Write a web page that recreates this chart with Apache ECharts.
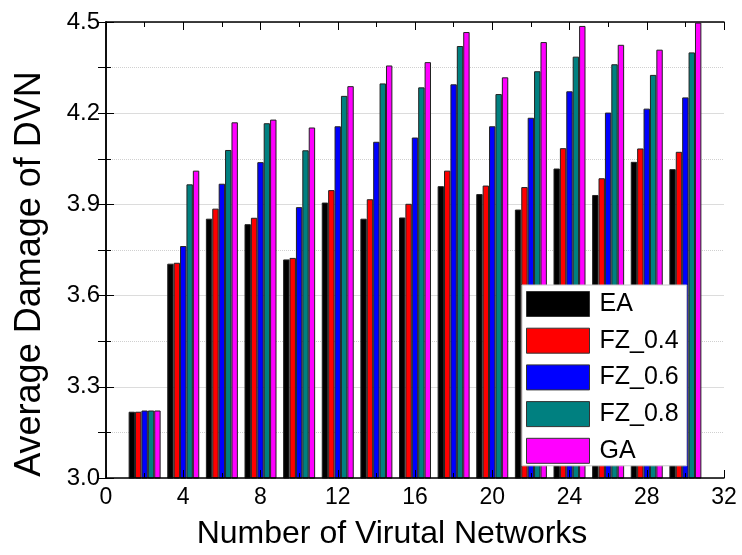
<!DOCTYPE html>
<html>
<head>
<meta charset="utf-8">
<script src="https://cdn.jsdelivr.net/npm/echarts@6/dist/echarts.min.js"></script>
<style>
  html, body {margin: 0; padding: 0; background: #fff;}
  #chart {width: 742px; height: 555px;}
</style>
</head>
<body>
<div id="chart"></div>
<script>
const xs = [2, 4, 6, 8, 10, 12, 14, 16, 18, 20, 22, 24, 26, 28, 30];
const seriesNames = ['EA', 'FZ_0.4', 'FZ_0.6', 'FZ_0.8', 'GA'];
const ea = [3.218, 3.705, 3.853, 3.835, 3.719, 3.906, 3.853, 3.857, 3.960, 3.934, 3.883, 4.018, 3.931, 4.040, 4.016];
const fz04 = [3.218, 3.708, 3.886, 3.856, 3.724, 3.947, 3.917, 3.902, 4.011, 3.962, 3.957, 4.085, 3.986, 4.084, 4.073];
const fz06 = [3.222, 3.763, 3.968, 4.039, 3.891, 4.157, 4.106, 4.120, 4.295, 4.157, 4.185, 4.272, 4.202, 4.215, 4.252];
const fz08 = [3.222, 3.966, 4.079, 4.167, 4.078, 4.257, 4.298, 4.285, 4.421, 4.263, 4.338, 4.386, 4.361, 4.326, 4.400];
const ga = [3.222, 4.011, 4.170, 4.179, 4.153, 4.289, 4.357, 4.368, 4.467, 4.318, 4.434, 4.487, 4.425, 4.409, 4.498];
const colors = ['#000000', '#ff0000', '#0000ff', '#008080', '#ff00ff'];

const font = '"Liberation Sans", Arial, sans-serif';
const values = [ea, fz04, fz06, fz08, ga];

const chart = echarts.init(document.getElementById('chart'));

const frameAxis = {
    min: 0,
    max: 32,
    interval: 4,
    axisLine: {lineStyle: {color: '#000', width: 1.5}},
    axisTick: {inside: true, length: 8, lineStyle: {color: '#000', width: 1}},
    minorTick: {show: true, splitNumber: 2, length: 5, lineStyle: {color: '#000', width: 1}},
    splitLine: {show: false}
};

chart.setOption({
    animation: false,
    grid: {left: 106, top: 22, right: 18, bottom: 77},
    legend: {
        data: seriesNames,
        orient: 'vertical',
        left: 522,
        top: 285,
        itemWidth: 63,
        itemHeight: 25,
        itemGap: 10.7,
        padding: [6, 8, 2, 4],
        backgroundColor: '#fff',
        borderColor: '#c8c8c8',
        borderWidth: 1,
        icon: 'rect',
        itemStyle: {borderColor: '#333', borderWidth: 1},
        textStyle: {fontFamily: font, fontSize: 25, color: '#000', padding: [0, 0, 0, 5]}
    },
    graphic: [
        {
            type: 'text',
            x: 392,
            y: 534,
            style: {
                text: 'Number of Virutal Networks',
                font: '32px ' + font,
                fill: '#000',
                textAlign: 'center',
                textVerticalAlign: 'middle'
            }
        },
        {
            type: 'text',
            x: 30,
            y: 274,
            rotation: Math.PI / 2,
            style: {
                text: 'Average Damage of DVN',
                font: '36px ' + font,
                fill: '#000',
                textAlign: 'center',
                textVerticalAlign: 'middle'
            }
        }
    ],
    xAxis: [
        Object.assign({}, frameAxis, {
            type: 'value',
            position: 'bottom',
            z: 3,
            axisLabel: {fontFamily: font, fontSize: 23, color: '#000', margin: 8}
        }),
        Object.assign({}, frameAxis, {
            type: 'value',
            position: 'top',
            axisLabel: {show: false}
        })
    ],
    yAxis: [
        {
            type: 'value',
            min: 3.0,
            max: 4.5,
            interval: 0.3,
            axisLine: {show: true, lineStyle: {color: '#000', width: 1.5}},
            axisTick: {inside: true, length: 8, lineStyle: {color: '#000'}},
            minorTick: {show: true, splitNumber: 2, length: 5, lineStyle: {color: '#000'}},
            axisLabel: {
                fontFamily: font, fontSize: 24, color: '#000', margin: 6,
                formatter: v => v.toFixed(1)
            },
            splitLine: {show: true, lineStyle: {color: '#dcdcdc', width: 1}},
            minorSplitLine: {show: true, lineStyle: {color: '#d0d0d0', width: 1, type: 'dotted'}}
        },
        {
            type: 'value',
            position: 'right',
            min: 3.0,
            max: 4.5,
            interval: 0.3,
            axisLine: {show: true, lineStyle: {color: '#000', width: 1.5}},
            axisTick: {inside: true, length: 8, lineStyle: {color: '#000'}},
            minorTick: {show: true, splitNumber: 2, length: 8, lineStyle: {color: '#000'}},
            axisLabel: {show: false},
            splitLine: {show: false}
        }
    ],
    series: seriesNames.map((name, i) => ({
        name: name,
        type: 'bar',
        barWidth: 6.4,
        barGap: '0%',
        itemStyle: {color: colors[i], borderColor: '#222', borderWidth: 1},
        data: xs.map((x, j) => [x, values[i][j]])
    }))
});
</script>
</body>
</html>
